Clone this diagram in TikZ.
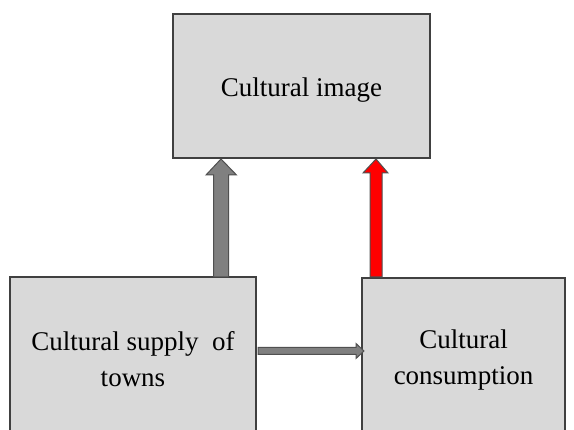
\documentclass[tikz,border=0pt]{standalone}
\usepackage{fontspec}
\setmainfont{Liberation Serif}
\definecolor{boxfill}{HTML}{D9D9D9}
\definecolor{boxline}{HTML}{404040}
\definecolor{arrowgray}{HTML}{808080}
\definecolor{arrowline}{HTML}{505050}
\tikzset{
  blockbox/.style={draw=boxline, line width=1.2pt, fill=boxfill, inner sep=0pt,
    align=center, font=\fontsize{27}{36}\selectfont, text=black},
  grayblock/.style={draw=arrowline, line width=1pt, fill=arrowgray, line join=miter},
  redblock/.style={draw=arrowline, line width=1pt, fill=red, line join=miter}
}
\begin{document}
\begin{tikzpicture}[x=1pt,y=-1pt]
\useasboundingbox (0,0) rectangle (574,430);
\clip (0,0) rectangle (574,430);
\fill[white] (0,0) rectangle (574,430);
\node[blockbox, minimum width=257pt, minimum height=144pt] (img) at (301.5,86) {\raisebox{0pt}[\dimexpr\height+9pt\relax][\depth]{Cultural image}};
\node[blockbox, minimum width=246pt, minimum height=164pt] (sup) at (133,359) {Cultural supply\ \ of\\towns};
\node[blockbox, minimum width=203pt, minimum height=164pt] (con) at (463.5,360) {Cultural\\consumption};
% gray vertical arrow
\draw[grayblock] (213.5,277) -- (213.5,175) -- (206,175) -- (221,159) -- (236.5,175) -- (228.5,175) -- (228.5,277) -- cycle;
% red vertical arrow
\draw[redblock] (370,277) -- (370,173) -- (363,173) -- (376,159) -- (388,173) -- (382,173) -- (382,277) -- cycle;
% horizontal arrow
\draw[grayblock] (258,347.5) -- (356,347.5) -- (356,343.5) -- (364,351) -- (356,358.5) -- (356,354.5) -- (258,354.5) -- cycle;
\end{tikzpicture}
\end{document}
